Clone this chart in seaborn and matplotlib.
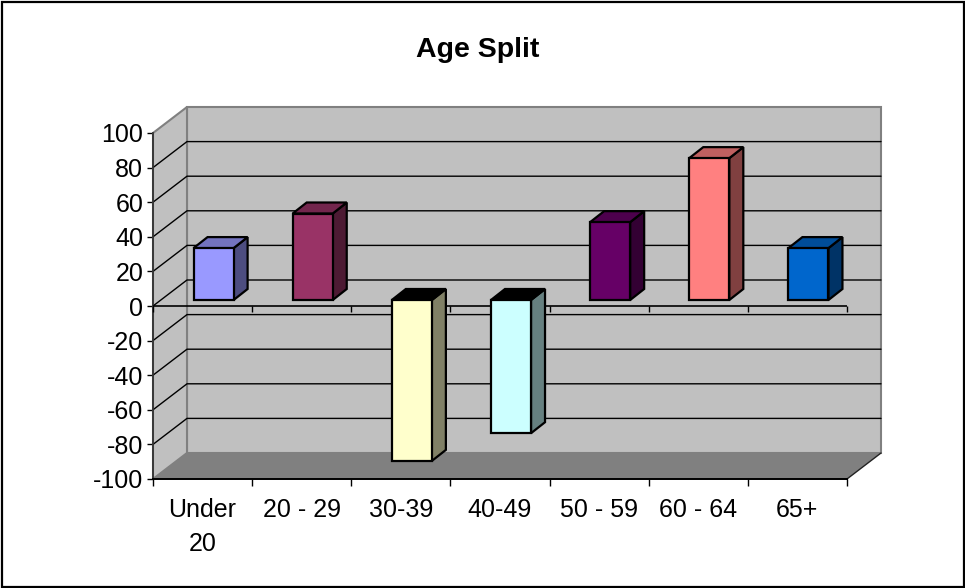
import numpy as np
import pandas as pd
import seaborn as sns
import matplotlib.pyplot as plt
from matplotlib.colors import to_rgb
from matplotlib.patches import Rectangle
from matplotlib.transforms import Affine2D

ages = ["Under\n20", "20 - 29", "30-39", "40-49", "50 - 59", "60 - 64", "65+"]
values = [30, 50, -93, -77, 45, 82, 30]
bar_colors = ["#9999FF", "#993366", "#FFFFCC", "#CCFFFF", "#660066", "#FF8080", "#0066CC"]
y_ticks = [100, 80, 60, 40, 20, 0, -20, -40, -60, -80, -100]

sns.set_style("white")
plt.rcParams["font.family"] = ["Liberation Sans", "DejaVu Sans"]
plt.rcParams["axes.unicode_minus"] = False
plt.rcParams["text.color"] = "black"
plt.rcParams["xtick.labelcolor"] = "black"
plt.rcParams["ytick.labelcolor"] = "black"

W, H = 965, 588
LEFT, RIGHT, TOP, BOTTOM = 153, 847, 133, 479
fig = plt.figure(figsize=(W / 100, H / 100), dpi=100)
ax = fig.add_axes([LEFT / W, 1 - BOTTOM / H, (RIGHT - LEFT) / W, (BOTTOM - TOP) / H])
ax.patch.set_visible(False)

df = pd.DataFrame({"age": ages, "value": values})
sns.barplot(data=df, x="age", y="value", hue="age", palette=bar_colors, legend=False,
            width=0.404, gap=0, saturation=1, edgecolor="black", linewidth=1.6, zorder=5, ax=ax)

x0, x1 = -0.5, len(ages) - 0.5
y0, y1 = -100, 100
ax.set_xlim(x0, x1)
ax.set_ylim(y0, y1)

# pixel sizes -> data units, the 3d look is all offsets
px_x = (x1 - x0) / (RIGHT - LEFT)
px_y = (y1 - y0) / (BOTTOM - TOP)
wall_dx, wall_dy = 34 * px_x, 26 * px_y
shift_x, shift_y = 11 * px_x, 6 * px_y
bar_dx, bar_dy = 14 * px_x, 11 * px_y

# back wall, side wall, floor
ax.fill([x0 + wall_dx, x1 + wall_dx, x1 + wall_dx, x0 + wall_dx],
        [y0 + wall_dy, y0 + wall_dy, y1 + wall_dy, y1 + wall_dy],
        facecolor="#C0C0C0", edgecolor="#808080", linewidth=1.5, zorder=1, clip_on=False)
ax.fill([x0, x0 + wall_dx, x0 + wall_dx, x0], [y0, y0 + wall_dy, y1 + wall_dy, y1],
        facecolor="#C0C0C0", edgecolor="#808080", linewidth=1.5, zorder=1, clip_on=False)
ax.fill([x0, x1, x1 + wall_dx, x0 + wall_dx], [y0, y0, y0 + wall_dy, y0 + wall_dy],
        facecolor="#808080", edgecolor="none", zorder=1.5, clip_on=False)
ax.plot([x1, x1 + wall_dx], [y0, y0 + wall_dy], color="#222222", lw=1, zorder=1.6, clip_on=False)

# gridlines, skip the two ends
for t in y_ticks[1:-1]:
    ax.plot([x0, x0 + wall_dx, x1 + wall_dx], [t, t + wall_dy, t + wall_dy],
            color="black", lw=1, zorder=2, clip_on=False)

# zero axis with its ticks
edges = np.arange(len(ages) + 1) - 0.5
ax.plot([x0, x1], [0, 0], color="black", lw=1.2, zorder=3)
ax.plot(edges, np.zeros(len(edges)), linestyle="none", marker=3, markersize=4.5,
        markeredgewidth=1, color="black", zorder=3, clip_on=False)

# bars: slide the fronts off the axis, add side and top faces
bar_shift = Affine2D().translate(shift_x, shift_y) + ax.transData
for p, color, val in zip(ax.patches, bar_colors, values):
    p.set_transform(bar_shift)
    p.set_clip_on(False)
    left, right = p.get_x(), p.get_x() + p.get_width()
    low, high = min(p.get_y(), p.get_y() + p.get_height()), max(p.get_y(), p.get_y() + p.get_height())
    rgb = np.array(to_rgb(color))
    top_color = rgb * 0.75 if val > 0 else "black"
    ax.fill([right, right + bar_dx, right + bar_dx, right],
            [low, low + bar_dy, high + bar_dy, high],
            facecolor=rgb * 0.5, edgecolor="black", linewidth=1.6, zorder=4,
            transform=bar_shift, clip_on=False)
    ax.fill([left, right, right + bar_dx, left + bar_dx],
            [high, high, high + bar_dy, high + bar_dy],
            facecolor=top_color, edgecolor="black", linewidth=1.6, zorder=4,
            transform=bar_shift, clip_on=False)

# axes
sns.despine(ax=ax, top=True, right=True)
ax.spines["left"].set_color("#333333")
ax.spines["bottom"].set_color("black")
ax.spines["left"].set_linewidth(1.3)
ax.spines["bottom"].set_linewidth(1.4)
ax.set_xlabel("")
ax.set_ylabel("")
ax.set_yticks(y_ticks)
ax.tick_params(axis="y", left=True, length=4, width=1, pad=3, labelsize=18, color="black")
ax.set_xticks(edges)
ax.set_xticklabels([])
ax.tick_params(axis="x", which="major", bottom=True, length=5, width=1, color="black")
ax.set_xticks(np.arange(len(ages)), labels=ages, minor=True)
ax.tick_params(axis="x", which="minor", bottom=False, length=0, pad=13.5, labelsize=18)
for lab in ax.get_xticklabels(minor=True):
    lab.set_linespacing(1.55)

fig.text(478 / W, 1 - 50 / H, "Age Split", fontsize=20.5, fontweight="bold", ha="center", va="center")
fig.add_artist(Rectangle((1.5 / W, 1.5 / H), (W - 3) / W, (H - 3) / H, transform=fig.transFigure,
                         fill=False, edgecolor="black", linewidth=1.6))

fig.savefig("out.png", dpi=100, facecolor="white")
